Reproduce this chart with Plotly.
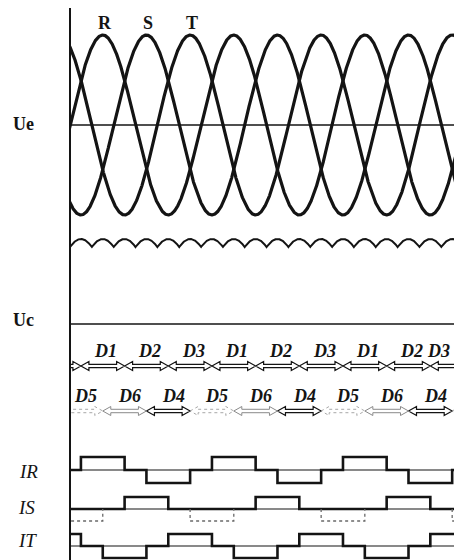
import numpy as np
import plotly.graph_objects as go

# ---------------- data ----------------
phase_names = ["R", "S", "T"]
phase_peak_deg = [90, 210, 330]          # first positive peak of each phase (deg)
phase_amplitude = 1.0
x_span_deg = [0, 1077]                   # visible angular span

upper_diodes = ["D1", "D2", "D3"]        # conduct while R / S / T is highest
upper_start_deg = [30, 150, 270]
lower_diodes = ["D5", "D6", "D4"]        # conduct while S / T / R is lowest
lower_start_deg = [-30, 90, 210]
conduction_deg = 120

current_names = ["IR", "IS", "IT"]
current_pos_diode = ["D1", "D2", "D3"]
current_neg_diode = ["D4", "D5", "D6"]
current_level = 1.0

# ---------------- layout helpers ----------------
# page is 462x560, but the browser body adds an 8px margin around the figure
PAGE_W, PAGE_H, BODY = 462, 560, 8
W, H = PAGE_W - BODY, PAGE_H - BODY
AX_X, TOP_Y = 70, 8                      # page px of the vertical axis line and its top
ML, MT = AX_X - BODY, TOP_Y - BODY
PW, PH = PAGE_W - AX_X, PAGE_H - TOP_Y


def px_x(px):
    return (px - AX_X) / PW


def px_y(py):
    return (PAGE_H - py) / PH


def dom(zero_px, ppu, lo, hi):
    top = zero_px - hi * ppu
    bot = zero_px - lo * ppu
    return [max(0.0, px_y(bot)), min(1.0, px_y(top))], [lo, hi]


theta = np.linspace(x_span_deg[0] - 20, x_span_deg[1] + 20, 4000)
phases = [phase_amplitude * np.cos(np.radians(theta - p)) for p in phase_peak_deg]
ripple = np.max(np.abs(np.vstack(phases)), axis=0)


def intervals(names, starts):
    out = []
    for n in range(-2, 5):
        for nm, s in zip(names, starts):
            a = s + n * 360
            out.append((nm, a, a + conduction_deg))
    out.sort(key=lambda t: t[1])
    return out


up_iv = intervals(upper_diodes, upper_start_deg)
lo_iv = intervals(lower_diodes, lower_start_deg)
all_iv = up_iv + lo_iv


def conducting(name, t):
    return any(nm == name and a <= t < b for nm, a, b in all_iv)


fig = go.Figure()
BLACK = "#141414"

# axes definitions (page px of zero, px per unit, range)
axes = {
    "y": dom(125, 90, -1.08, 1.08),
    "y2": dom(239 + 60, 60, 0.82, 1.04),
    "y3": dom(324, 1, -3, 3),
    "y4": dom(366, 4.5, -1.5, 1.5),
    "y5": dom(411, 4.5, -1.5, 1.5),
    "y6": dom(470, 13, -1.3, 1.3),
    "y7": dom(509, 12, -1.3, 1.3),
    "y8": dom(546, 12, -1.15, 1.3),
}

# Ue sines
for v in phases:
    fig.add_trace(go.Scatter(x=theta, y=v, yaxis="y", mode="lines",
                             line=dict(color=BLACK, width=3.2), hoverinfo="skip"))
fig.add_trace(go.Scatter(x=x_span_deg, y=[0, 0], yaxis="y", mode="lines",
                         line=dict(color=BLACK, width=1.6), hoverinfo="skip"))

# ripple (Uc)
fig.add_trace(go.Scatter(x=theta, y=ripple, yaxis="y2", mode="lines",
                         line=dict(color=BLACK, width=2), hoverinfo="skip"))
fig.add_trace(go.Scatter(x=x_span_deg, y=[0, 0], yaxis="y3", mode="lines",
                         line=dict(color=BLACK, width=1.6), hoverinfo="skip"))

# hollow double arrows
HEAD = 22
SH = 0.38


def arrow(a, b):
    return ([a, a + HEAD, a + HEAD, b - HEAD, b - HEAD, b, b - HEAD, b - HEAD, a + HEAD, a + HEAD, a, None],
            [0, 1, SH, SH, 1, 0, -1, -SH, -SH, -1, 0, None])


def add_arrows(ivs, yax, style):
    groups = {}
    for nm, a, b in ivs:
        xs, ys = arrow(a, b)
        g = groups.setdefault(nm, ([], []))
        g[0].extend(xs)
        g[1].extend(ys)
    for nm, (xs, ys) in groups.items():
        fig.add_trace(go.Scatter(x=xs, y=ys, yaxis=yax, mode="lines",
                                 line=style[nm], hoverinfo="skip"))


add_arrows(up_iv, "y4", {n: dict(color=BLACK, width=1.2) for n in upper_diodes})
add_arrows(lo_iv, "y5", {"D4": dict(color=BLACK, width=1.2),
                         "D6": dict(color="#8a8a8a", width=1.0),
                         "D5": dict(color="#a8a8a8", width=1.0, dash="dot")})

# currents
brk = np.arange(-90, 1200, 60)
for cname, pd_, nd_, yax in zip(current_names, current_pos_diode, current_neg_diode, ["y6", "y7", "y8"]):
    vals = []
    for t0 in brk:
        mid = t0 + 30
        if conducting(pd_, mid):
            vals.append(current_level)
        elif conducting(nd_, mid):
            vals.append(-current_level)
        else:
            vals.append(0.0)
    vals = np.array(vals)
    fig.add_trace(go.Scatter(x=x_span_deg, y=[0, 0], yaxis=yax, mode="lines",
                             line=dict(color=BLACK, width=1.2), hoverinfo="skip"))
    if cname == "IS":
        solid = np.where(vals < 0, 0, vals)
        fig.add_trace(go.Scatter(x=brk, y=solid, yaxis=yax, mode="lines", line_shape="hv",
                                 line=dict(color=BLACK, width=2.6), hoverinfo="skip"))
        xs, ys = [], []
        for nm, a, b in all_iv:
            if nm == nd_:
                xs += [a, a, b, b, None]
                ys += [0, -current_level, -current_level, 0, None]
        fig.add_trace(go.Scatter(x=xs, y=ys, yaxis=yax, mode="lines",
                                 line=dict(color="#6a6a6a", width=1.3, dash="dot"), hoverinfo="skip"))
    else:
        fig.add_trace(go.Scatter(x=brk, y=vals, yaxis=yax, mode="lines", line_shape="hv",
                                 line=dict(color=BLACK, width=2.6), hoverinfo="skip"))

# ---------------- annotations ----------------
ann = []
SERIF = "Liberation Serif"
for nm, pk in zip(phase_names, phase_peak_deg):
    ann.append(dict(x=pk, xref="x", y=px_y(23), yref="paper", text=f"<b>{nm}</b>",
                    xanchor="center", yanchor="middle", xshift=2,
                    showarrow=False, font=dict(family=SERIF, size=18, color=BLACK)))


def diode_labels(ivs, ypx, shift):
    for nm, a, b in ivs:
        c = (a + b) / 2
        if x_span_deg[0] <= c <= x_span_deg[1] + 5:
            edge = c > x_span_deg[1] - 40
            ann.append(dict(x=x_span_deg[1] if edge else c, xref="x", y=px_y(ypx), yref="paper",
                            xshift=-10 if edge else shift, xanchor="right" if edge else "center",
                            yanchor="middle",
                            text=f"<b><i>{nm}</i></b>", showarrow=False,
                            font=dict(family=SERIF, size=18, color=BLACK)))


diode_labels(up_iv, 351, 3)
diode_labels(lo_iv, 396, 5)

for txt, (xp, yp), bold in [("Ue", (23, 124), True), ("Uc", (23, 320), True),
                            ("IR", (28, 471), False), ("IS", (26, 507), False),
                            ("IT", (27, 540), False)]:
    t = f"<b>{txt}</b>" if bold else f"<i>{txt}</i>"
    ann.append(dict(x=px_x(xp), xref="paper", y=px_y(yp), yref="paper", text=t,
                    xanchor="center", yanchor="middle",
                    showarrow=False, font=dict(family=SERIF, size=18 if bold else 19, color=BLACK)))

layout = dict(
    width=W, height=H, margin=dict(l=ML, r=0, t=MT, b=0),
    paper_bgcolor="white", plot_bgcolor="white", showlegend=False,
    xaxis=dict(range=x_span_deg, visible=False, fixedrange=True),
    annotations=ann,
    shapes=[dict(type="line", xref="paper", yref="paper", x0=0, x1=0, y0=0, y1=1,
                 line=dict(color=BLACK, width=2))],
)
for k, (d, r) in axes.items():
    key = "yaxis" if k == "y" else "yaxis" + k[1:]
    layout[key] = dict(domain=d, range=r, visible=False, fixedrange=True, anchor="x")
fig.update_layout(**layout)
fig.write_html("out.html")
